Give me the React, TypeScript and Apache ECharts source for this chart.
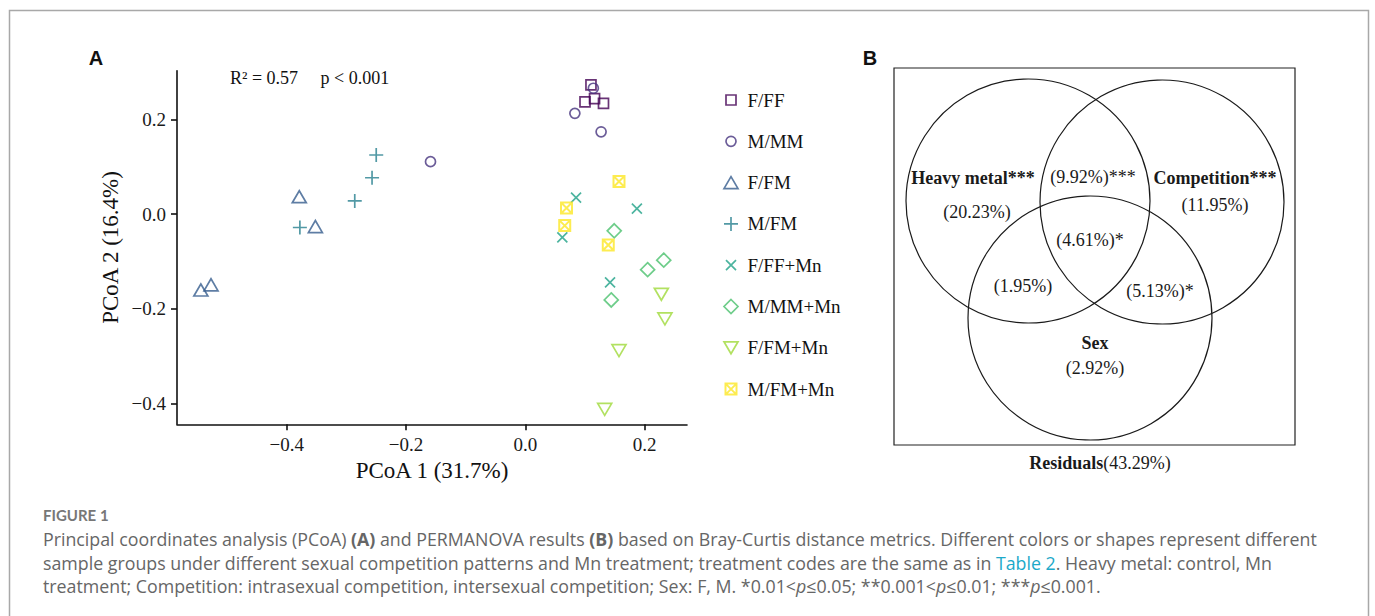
import React, { useEffect, useRef } from 'react';
import * as echarts from 'echarts';

// ---------- data ----------
const groups = ['F/FF', 'M/MM', 'F/FM', 'M/FM', 'F/FF+Mn', 'M/MM+Mn', 'F/FM+Mn', 'M/FM+Mn'];
const groupColors = ['#440154', '#46337e', '#365c8d', '#277f8e', '#1fa187', '#4ac16d', '#9fda3a', '#fde725'];

const F_FF = [[0.110, 0.273], [0.100, 0.237], [0.116, 0.244], [0.131, 0.234]];
const M_MM = [[-0.159, 0.111], [0.083, 0.213], [0.114, 0.266], [0.127, 0.174]];
const F_FM = [[-0.379, 0.037], [-0.352, -0.026], [-0.544, -0.160], [-0.527, -0.149]];
const M_FM = [[-0.250, 0.125], [-0.257, 0.077], [-0.286, 0.028], [-0.378, -0.028]];
const F_FF_Mn = [[0.085, 0.035], [0.187, 0.012], [0.062, -0.049], [0.142, -0.144]];
const M_MM_Mn = [[0.149, -0.035], [0.232, -0.097], [0.205, -0.117], [0.144, -0.181]];
const F_FM_Mn = [[0.228, -0.169], [0.234, -0.221], [0.157, -0.288], [0.133, -0.412]];
const M_FM_Mn = [[0.157, 0.069], [0.069, 0.013], [0.066, -0.024], [0.139, -0.065]];
const groupData = [F_FF, M_MM, F_FM, M_FM, F_FF_Mn, M_MM_Mn, F_FM_Mn, M_FM_Mn];

const xTicks = [-0.4, -0.2, 0, 0.2];
const yTicks = [-0.4, -0.2, 0, 0.2];
const xTitle = 'PCoA 1 (31.7%)';
const yTitle = 'PCoA 2 (16.4%)';
const statText = 'R² = 0.57     p < 0.001';

// PERMANOVA (Venn) values
const vennSets = ['Heavy metal', 'Competition', 'Sex'];
const vennSetSig = ['***', '***', ''];
const vennSetPct = [20.23, 11.95, 2.92];
const vennOverlapPct = [9.92, 4.61, 1.95, 5.13]; // HM∩C, HM∩C∩S, HM∩S, C∩S
const vennOverlapSig = ['***', '*', '', '*'];
const residualPct = 43.29;

// ---------- styles ----------
const SERIF = '"Liberation Serif", "Times New Roman", serif';
const SANS = '"Liberation Sans", Arial, sans-serif';
const CAP = '"Open Sans", Lato, sans-serif';
const CAP_SIZE = 17.8;

const F = 'M0 0 M16 16 ';
const symbols = [
  'path://' + F + 'M3 3 H13 V13 H3 Z',
  'path://' + F + 'M3 8 A5 5 0 1 1 13 8 A5 5 0 1 1 3 8 Z',
  'path://' + F + 'M1 14 H15 L8 2 Z',
  'path://' + F + 'M8 1 V15 M1 8 H15',
  'path://' + F + 'M3 3 L13 13 M13 3 L3 13',
  'path://' + F + 'M8 1 L15 8 L8 15 L1 8 Z',
  'path://' + F + 'M1 2 H15 L8 14 Z',
  'path://' + F + 'M2.5 2.5 H13.5 V13.5 H2.5 Z M2.5 2.5 L13.5 13.5 M13.5 2.5 L2.5 13.5',
];

const fmt = (v: number) => (v < 0 ? '−' : '') + Math.abs(v).toFixed(1);
const pct = (v: number) => '(' + v.toFixed(2) + '%)';

function buildOption() {
  const axisCommon = {
    type: 'value' as const,
    splitLine: { show: false },
    axisLine: { show: true, onZero: false, lineStyle: { color: '#111', width: 1.6 } },
    nameLocation: 'middle' as const,
    nameTextStyle: { fontFamily: SERIF, fontSize: 23, color: '#111' },
  };

  const series = groups.map((g, i) => ({
    name: g,
    type: 'scatter',
    data: groupData[i],
    symbol: symbols[i],
    symbolSize: 16,
    itemStyle: { color: 'rgba(0,0,0,0)', borderColor: groupColors[i], borderWidth: i === 7 ? 2 : 1.7 },
    emphasis: { disabled: true },
  }));

  const vennText = (text: string, x: number, y: number, bold = false) => ({
    type: 'text',
    x,
    y,
    style: {
      text,
      fontFamily: SERIF,
      fontSize: 18,
      fontWeight: bold ? 'bold' : 'normal',
      fill: '#1a1a1a',
      align: 'center',
      verticalAlign: 'middle',
    },
  });

  const graphics: any[] = [
    // outer frame
    { type: 'rect', shape: { x: 9.5, y: 10.5, width: 1359, height: 700 }, style: { fill: 'none', stroke: '#a8a8a8', lineWidth: 1.5 } },
    // panel letters
    { type: 'text', x: 96, y: 58, style: { text: 'A', fontFamily: SANS, fontSize: 20, fontWeight: 'bold', fill: '#111', align: 'center', verticalAlign: 'middle' } },
    { type: 'text', x: 870, y: 58, style: { text: 'B', fontFamily: SANS, fontSize: 20, fontWeight: 'bold', fill: '#111', align: 'center', verticalAlign: 'middle' } },
    // stats
    { type: 'text', x: 230, y: 78, style: { text: statText, fontFamily: SERIF, fontSize: 18, fill: '#111', align: 'left', verticalAlign: 'middle' } },
    // venn
    { type: 'rect', shape: { x: 894, y: 68, width: 401, height: 377 }, style: { fill: 'none', stroke: '#222', lineWidth: 1.2 } },
    { type: 'circle', shape: { cx: 1028, cy: 201, r: 122 }, style: { fill: 'none', stroke: '#1a1a1a', lineWidth: 1.2 } },
    { type: 'circle', shape: { cx: 1162, cy: 202, r: 122 }, style: { fill: 'none', stroke: '#1a1a1a', lineWidth: 1.2 } },
    { type: 'circle', shape: { cx: 1090, cy: 318, r: 122 }, style: { fill: 'none', stroke: '#1a1a1a', lineWidth: 1.2 } },
    vennText(vennSets[0] + vennSetSig[0], 973, 178, true),
    vennText(pct(vennSetPct[0]), 977, 212),
    vennText(vennSets[1] + vennSetSig[1], 1215, 178, true),
    vennText(pct(vennSetPct[1]), 1215, 205),
    vennText(vennSets[2] + vennSetSig[2], 1095, 343, true),
    vennText(pct(vennSetPct[2]), 1095, 368),
    vennText(pct(vennOverlapPct[0]) + vennOverlapSig[0], 1093, 177),
    vennText(pct(vennOverlapPct[1]) + vennOverlapSig[1], 1090, 240),
    vennText(pct(vennOverlapPct[2]) + vennOverlapSig[2], 1023, 286),
    vennText(pct(vennOverlapPct[3]) + vennOverlapSig[3], 1160, 291),
    {
      type: 'text',
      x: 1100,
      y: 463,
      style: {
        text: '{b|Residuals}{n|(' + residualPct.toFixed(2) + '%)}',
        align: 'center',
        verticalAlign: 'middle',
        rich: {
          b: { fontFamily: SERIF, fontSize: 18, fontWeight: 'bold', fill: '#1a1a1a', color: '#1a1a1a' },
          n: { fontFamily: SERIF, fontSize: 18, fill: '#1a1a1a', color: '#1a1a1a' },
        },
      },
    },
    // caption
    { type: 'text', x: 43, y: 515, style: { text: 'FIGURE 1', fontFamily: 'Lato, sans-serif', fontSize: 15, fontWeight: 'bold', fill: '#777', align: 'left', verticalAlign: 'middle' } },
  ];

  const capRich = {
    n: { fontFamily: CAP, fontSize: CAP_SIZE, color: '#666', fill: '#666' },
    b: { fontFamily: CAP, fontSize: CAP_SIZE, fontWeight: 'bold', color: '#666', fill: '#666' },
    l: { fontFamily: CAP, fontSize: CAP_SIZE, color: '#1ca9c9', fill: '#1ca9c9' },
    i: { fontFamily: CAP, fontSize: CAP_SIZE, fontStyle: 'italic', color: '#666', fill: '#666' },
  };
  const capLines = [
    '{n|Principal coordinates analysis (PCoA) }{b|(A)}{n| and PERMANOVA results }{b|(B)}{n| based on Bray-Curtis distance metrics. Different colors or shapes represent different}',
    '{n|sample groups under different sexual competition patterns and Mn treatment; treatment codes are the same as in }{l|Table 2}{n|. Heavy metal: control, Mn}',
    '{n|treatment; Competition: intrasexual competition, intersexual competition; Sex: F, M. *0.01<}{i|p}{n|≤0.05; **0.001<}{i|p}{n|≤0.01; ***}{i|p}{n|≤0.001.}',
  ];
  const capY = [539, 563, 586];
  capLines.forEach((t, k) => {
    graphics.push({ type: 'text', x: 43, y: capY[k], style: { text: t, rich: capRich, align: 'left', verticalAlign: 'middle' } });
  });

  return {
    animation: false,
    backgroundColor: '#fff',
    grid: { left: 177, right: 688, top: 70.7, bottom: 191.7, containLabel: false, outerBoundsMode: 'none' },
    xAxis: {
      ...axisCommon,
      min: -0.584,
      max: 0.271,
      name: xTitle,
      nameGap: 35,
      axisTick: { show: true, length: 6, customValues: xTicks, lineStyle: { color: '#111', width: 1.6 } },
      axisLabel: { customValues: xTicks, formatter: fmt, margin: 11, fontFamily: SERIF, fontSize: 19, color: '#1a1a1a' },
    },
    yAxis: {
      ...axisCommon,
      min: -0.4435,
      max: 0.303,
      name: yTitle,
      nameGap: 55,
      nameRotate: 90,
      axisTick: { show: true, length: 6, customValues: yTicks, lineStyle: { color: '#111', width: 1.6 } },
      axisLabel: { customValues: yTicks, formatter: fmt, margin: 11, fontFamily: SERIF, fontSize: 19, color: '#1a1a1a' },
    },
    legend: {
      orient: 'vertical',
      left: 717,
      top: 85,
      itemWidth: 23,
      itemHeight: 16,
      itemGap: 21.3,
      selectedMode: false,
      textStyle: { fontFamily: SERIF, fontSize: 19, color: '#111', lineHeight: 20 },
      data: groups.map((g, i) => ({
        name: g,
        icon: symbols[i],
        itemStyle: { color: 'rgba(0,0,0,0)', borderColor: groupColors[i], borderWidth: i === 7 ? 2 : 1.7 },
      })),
    },
    series,
    graphic: graphics,
  };
}

export default function App() {
  const ref = useRef<HTMLDivElement>(null);
  useEffect(() => {
    document.body.style.margin = '0';
    const chart = echarts.init(ref.current as HTMLDivElement, null, { renderer: 'svg' });
    chart.setOption(buildOption() as any);
    return () => chart.dispose();
  }, []);
  return <div ref={ref} style={{ width: 1375, height: 616, background: '#fff' }} />;
}
